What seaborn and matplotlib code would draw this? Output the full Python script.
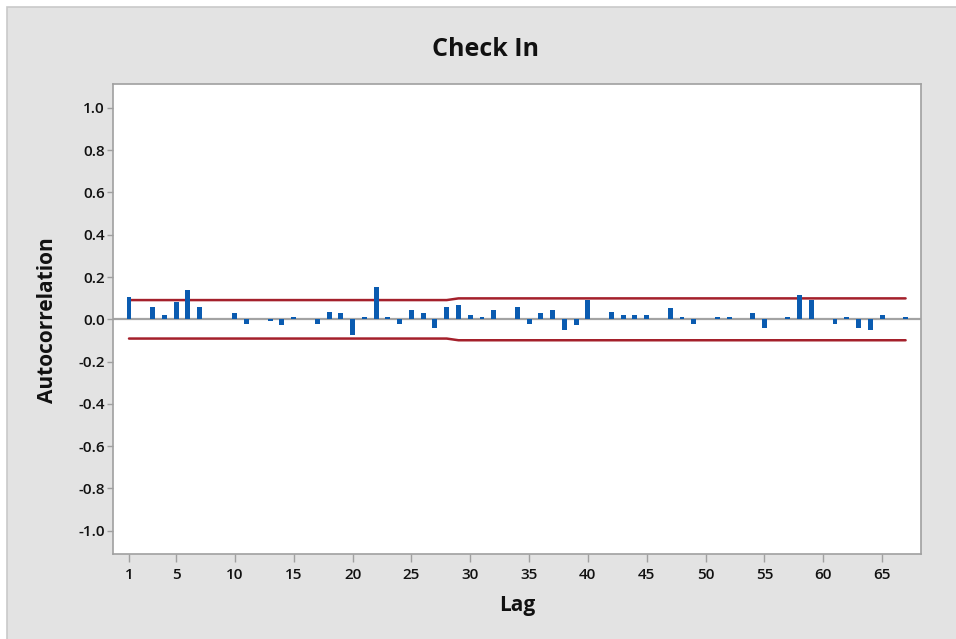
import matplotlib
matplotlib.use("Agg")
import matplotlib.pyplot as plt
from matplotlib.patches import Rectangle
import seaborn as sns
import pandas as pd

# ---- data ----
lags = list(range(1, 68))
acf = [0.105, 0.0, 0.06, 0.02, 0.084, 0.139, 0.06, 0.0, 0.0, 0.028,
       -0.02, 0.0, -0.01, -0.027, 0.013, 0.0, -0.02, 0.036, 0.028, -0.074,
       0.013, 0.155, 0.013, -0.02, 0.044, 0.028, -0.043, 0.06, 0.068, 0.02,
       0.013, 0.044, 0.0, 0.06, -0.02, 0.028, 0.044, -0.05, -0.027, 0.091,
       0.0, 0.036, 0.02, 0.02, 0.02, 0.0, 0.052, 0.013, -0.02, 0.0,
       0.013, 0.013, 0.0, 0.028, -0.043, 0.0, 0.013, 0.115, 0.091, 0.0,
       -0.02, 0.01, -0.043, -0.05, 0.02, 0.0, 0.01]
limit_lags = [1, 28, 29, 67]
upper_limit = [0.091, 0.091, 0.099, 0.099]
lower_limit = [-0.091, -0.091, -0.099, -0.099]
x_ticks = [1, 5, 10, 15, 20, 25, 30, 35, 40, 45, 50, 55, 60, 65]
y_ticks = [-1.0, -0.8, -0.6, -0.4, -0.2, 0.0, 0.2, 0.4, 0.6, 0.8, 1.0]
title = "Check In"
xlabel = "Lag"
ylabel = "Autocorrelation"

sns.set_style("white")
plt.rcParams['font.family'] = ['Open Sans', 'DejaVu Sans']

W, H = 956, 639
fig = plt.figure(figsize=(W / 100, H / 100), dpi=100)
fig.patch.set_facecolor("white")
# grey panel
bg = Rectangle((7 / W, -0.01), 1.02, 1 - 7 / H + 0.01,
               transform=fig.transFigure, facecolor="#e3e3e3",
               edgecolor="#c9c9c9", linewidth=1.2, zorder=-10)
fig.patches.append(bg)

ax_l, ax_r, ax_t, ax_b = 113, 921, 84, 554
ax = fig.add_axes([ax_l / W, 1 - ax_b / H, (ax_r - ax_l) / W, (ax_b - ax_t) / H])
ax.set_zorder(1)
ax.set_facecolor("white")

ax.axhline(0, color="#a3a3a3", linewidth=1.6, zorder=1)

df = pd.DataFrame({"lag": lags, "acf": acf})
sns.barplot(data=df, x="lag", y="acf", native_scale=True, width=0.42,
            color="#0a5bb0", saturation=1, ax=ax, zorder=3, linewidth=0)

lim = pd.DataFrame({"lag": limit_lags, "upper": upper_limit, "lower": lower_limit})
sns.lineplot(data=lim, x="lag", y="upper", color="#a4202b", linewidth=1.8, ax=ax, zorder=2)
sns.lineplot(data=lim, x="lag", y="lower", color="#a4202b", linewidth=1.8, ax=ax, zorder=2)

ax.set_xlim(-0.36, 68.31)
ax.set_ylim(-1.110, 1.113)
ax.set_xticks(x_ticks)
ax.set_xticklabels([str(t) for t in x_ticks])
ax.set_yticks(y_ticks)
ax.set_yticklabels([f"{t:.1f}" for t in y_ticks])
ax.set_xlabel("")
ax.set_ylabel("")

for s in ax.spines.values():
    s.set_visible(True)
    s.set_color("#a0a0a0")
    s.set_linewidth(1.2)

ax.tick_params(axis="both", which="major", direction="out", color="#a0a0a0",
               width=1, labelsize=11, labelcolor="#111111",
               bottom=True, left=True, top=False, right=False)
ax.tick_params(axis="x", length=6, pad=4)
ax.tick_params(axis="y", length=4, pad=2)
for lab in ax.get_xticklabels() + ax.get_yticklabels():
    lab.set_fontweight("semibold")

fig.text(486 / W, 1 - 50 / H, title, ha="center", va="center",
         fontsize=18, fontweight="bold", color="#111111")
fig.text(517 / W, 1 - 605 / H, xlabel, ha="center", va="center",
         fontsize=15, fontweight="bold", color="#111111")
fig.text(48 / W, 1 - 320 / H, ylabel, ha="center", va="center", rotation=90,
         fontsize=15, fontweight="bold", color="#111111")

fig.savefig("out.png", dpi=100)
